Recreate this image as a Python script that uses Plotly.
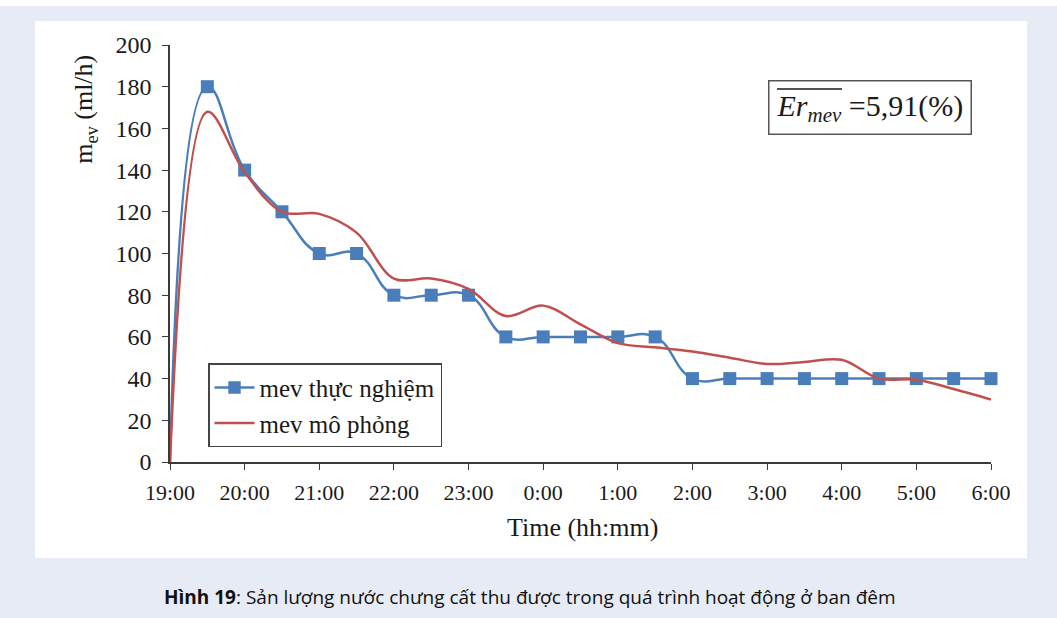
import plotly.graph_objects as go

# ---- data ----
times = ["19:00", "19:30", "20:00", "20:30", "21:00", "21:30", "22:00", "22:30",
         "23:00", "23:30", "0:00", "0:30", "1:00", "1:30", "2:00", "2:30",
         "3:00", "3:30", "4:00", "4:30", "5:00", "5:30", "6:00"]
mev_exp = [0, 180, 140, 120, 100, 100, 80, 80, 80, 60, 60, 60, 60, 60,
           40, 40, 40, 40, 40, 40, 40, 40, 40]
mev_sim = [0, 168, 139, 120, 119, 110, 88, 88, 83, 70, 75, 66, 57, 55,
           53, 50, 47, 48, 49, 40, 39.5, 35, 30]
tick_labels = ["19:00", "20:00", "21:00", "22:00", "23:00", "0:00", "1:00",
               "2:00", "3:00", "4:00", "5:00", "6:00"]
y_ticks = [0, 20, 40, 60, 80, 100, 120, 140, 160, 180, 200]


def hours_since_start(t, start=19):
    h, m = map(int, t.split(":"))
    v = h + m / 60 - start
    return v + 24 if v < 0 else v


x = [hours_since_start(t) for t in times]
tick_x = [hours_since_start(t) for t in tick_labels]

BLUE = "#4a7ebb"
RED = "#c0504d"
AXIS = "#3a3a3a"
TXT = "#1a1a1a"
SERIF = "Liberation Serif"

fig = go.Figure()
fig.add_trace(go.Scatter(
    x=x, y=mev_exp, name="mev thực nghiệm", mode="lines+markers",
    line=dict(color=BLUE, width=2.5, shape="spline", smoothing=1.3),
    marker=dict(symbol="square", size=[0] + [13] * (len(x) - 1), color=BLUE,
                opacity=1, line=dict(width=0)),
    cliponaxis=False,
))
fig.add_trace(go.Scatter(
    x=x, y=mev_sim, name="mev mô phỏng", mode="lines",
    line=dict(color=RED, width=2.5, shape="spline", smoothing=1.0),
    cliponaxis=False,
))

# panel background shapes
fig.add_shape(type="rect", xref="paper", yref="paper",
              x0=-0.21, x1=1.29, y0=1.0935, y1=1.12,
              fillcolor="white", line_width=0, layer="below")
fig.add_shape(type="rect", xref="paper", yref="paper",
              x0=-0.1644, x1=1.0438, y0=-0.2302, y1=1.0576,
              fillcolor="white", line_width=0, layer="below")

# error annotation with overline
fig.add_annotation(
    xref="paper", yref="paper", x=0.8526, y=0.849, xanchor="center", yanchor="middle",
    showarrow=False,
    text="<i>Er<sub>mev</sub></i> =5,91(%)",
    font=dict(family=SERIF, size=30, color=TXT),
    bordercolor="#555555", borderwidth=1.5, borderpad=7, bgcolor="rgba(0,0,0,0)",
)
fig.add_shape(type="line", xref="paper", yref="paper",
              x0=0.7393, x1=0.8185, y0=0.8945, y1=0.8945,
              line=dict(color=TXT, width=1.3))

# axis titles
fig.add_annotation(
    xref="paper", yref="paper", x=-0.1035, y=0.845, xanchor="center", yanchor="middle",
    showarrow=False, text="m<sub>ev</sub> (ml/h)", textangle=-90,
    font=dict(family=SERIF, size=26, color=TXT),
)
fig.add_annotation(
    xref="paper", yref="paper", x=0.503, y=-0.156, xanchor="center", yanchor="middle",
    showarrow=False, text="Time (hh:mm)", font=dict(family=SERIF, size=26, color=TXT),
)
# caption
fig.add_annotation(
    xref="paper", yref="paper", x=(530 - 170) / 821, y=(462 - 597) / 417,
    xanchor="center", yanchor="middle", showarrow=False,
    text="<b>Hình 19</b>: Sản lượng nước chưng cất thu được trong quá trình hoạt động ở ban đêm",
    font=dict(family="Open Sans", size=19, color="#111111"),
)

fig.update_layout(
    width=1057, height=618,
    margin=dict(l=170, r=66, t=45, b=156),
    paper_bgcolor="#e7ebf5", plot_bgcolor="white",
    showlegend=True,
    legend=dict(
        x=0.0463, y=0.237, xanchor="left", yanchor="top",
        bordercolor="#444444", borderwidth=1.5, bgcolor="white",
        font=dict(family=SERIF, size=25, color=TXT),
        itemwidth=40, tracegroupgap=0,
    ),
    xaxis=dict(
        range=[0, 11], tickvals=tick_x, ticktext=tick_labels,
        showgrid=False, zeroline=False, showline=True, linecolor=AXIS, linewidth=1.5,
        ticks="outside", ticklen=6, tickcolor=AXIS, tickwidth=1.3,
        ticklabelstandoff=4,
        tickfont=dict(family=SERIF, size=22, color=TXT),
    ),
    yaxis=dict(
        range=[0, 200], tickvals=y_ticks,
        showgrid=False, zeroline=False, showline=True, linecolor=AXIS, linewidth=1.5,
        ticks="outside", ticklen=6, tickcolor=AXIS, tickwidth=1.3,
        ticklabelstandoff=6,
        tickfont=dict(family=SERIF, size=24, color=TXT),
    ),
)

fig.write_html("out.html")
